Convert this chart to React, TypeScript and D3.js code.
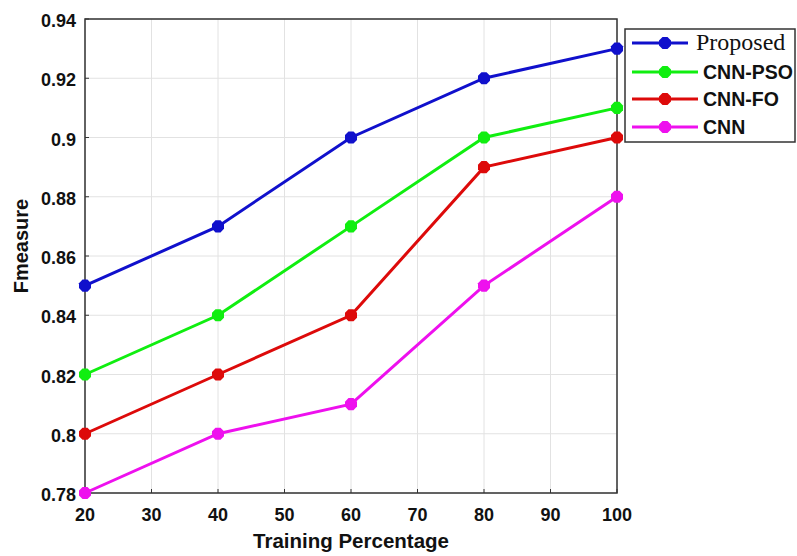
import React from "react";
import * as d3 from "d3";

const xValues = [20, 40, 60, 80, 100];
const proposed = [0.85, 0.87, 0.9, 0.92, 0.93];
const cnnPso = [0.82, 0.84, 0.87, 0.9, 0.91];
const cnnFo = [0.8, 0.82, 0.84, 0.89, 0.9];
const cnn = [0.78, 0.8, 0.81, 0.85, 0.88];
const seriesNames = ["Proposed", "CNN-PSO", "CNN-FO", "CNN"];
const seriesColors = ["#1010cc", "#10ee10", "#dd0a0a", "#ee10ee"];
const xTicks = [20, 30, 40, 50, 60, 70, 80, 90, 100];
const yTicks = [0.78, 0.8, 0.82, 0.84, 0.86, 0.88, 0.9, 0.92, 0.94];
const yTickLabels = ["0.78", "0.8", "0.82", "0.84", "0.86", "0.88", "0.9", "0.92", "0.94"];

const W = 797, H = 556;
const L = 85, R = 617, T = 19, B = 493;

function hexPath(cx: number, cy: number, r: number) {
  const pts = d3.range(8).map(i => {
    const a = (Math.PI / 4) * i + Math.PI / 8;
    return [cx + r * Math.cos(a), cy + r * Math.sin(a)];
  });
  return "M" + pts.map(p => p.join(",")).join("L") + "Z";
}

export default function App() {
  const x = d3.scaleLinear().domain([20, 100]).range([L, R]);
  const y = d3.scaleLinear().domain([0.78, 0.94]).range([B, T]);
  const data = [proposed, cnnPso, cnnFo, cnn];
  const line = d3.line<number>().x((_, i) => x(xValues[i])).y(d => y(d));
  const font = "Arial, 'Liberation Sans', sans-serif";
  const legendRows = [43, 72, 99, 127];
  return (
    <svg width={W} height={H} style={{ position: "absolute", left: 0, top: 0, background: "#fff" }}>
      <rect x={0} y={0} width={W} height={H} fill="#fff" />
      {xTicks.map(t => (
        <line key={"gx" + t} x1={x(t)} x2={x(t)} y1={T} y2={B} stroke="#e2e2e2" strokeWidth={1} />
      ))}
      {yTicks.map(t => (
        <line key={"gy" + t} x1={L} x2={R} y1={y(t)} y2={y(t)} stroke="#e2e2e2" strokeWidth={1} />
      ))}
      <rect x={L} y={T} width={R - L} height={B - T} fill="none" stroke="#333" strokeWidth={1.5} />
      {xTicks.map(t => (
        <g key={"tx" + t}>
          <line x1={x(t)} x2={x(t)} y1={B} y2={B - 4} stroke="#333" />
          <text x={x(t)} y={B + 28} textAnchor="middle" fontFamily={font} fontWeight="bold" fontSize={18} fill="#111">{t}</text>
        </g>
      ))}
      {yTicks.map((t, i) => (
        <g key={"ty" + t}>
          <line x1={L} x2={L + 4} y1={y(t)} y2={y(t)} stroke="#333" />
          <text x={L - 9} y={y(t) + 8} textAnchor="end" fontFamily={font} fontWeight="bold" fontSize={18} fill="#111">{yTickLabels[i]}</text>
        </g>
      ))}
      <text x={351} y={548} textAnchor="middle" fontFamily={font} fontWeight="bold" fontSize={20.5} fill="#111">Training Percentage</text>
      <text transform={`translate(28,${(T + B) / 2 - 10}) rotate(-90)`} textAnchor="middle" fontFamily={font} fontWeight="bold" fontSize={20} fill="#111">Fmeasure</text>
      {data.map((s, k) => (
        <g key={"s" + k}>
          <path d={line(s) || ""} fill="none" stroke={seriesColors[k]} strokeWidth={3} />
          {s.map((v, i) => (
            <path key={i} d={hexPath(x(xValues[i]), y(v), 6.5)} fill={seriesColors[k]} />
          ))}
        </g>
      ))}
      <rect x={625} y={29} width={170} height={113} fill="#fff" stroke="#333" strokeWidth={1.5} />
      {seriesNames.map((n, k) => (
        <g key={"l" + n}>
          <line x1={632} x2={k === 0 ? 688 : 698} y1={legendRows[k]} y2={legendRows[k]} stroke={seriesColors[k]} strokeWidth={3} />
          <path d={hexPath(665, legendRows[k], 6.5)} fill={seriesColors[k]} />
          <text x={k === 0 ? 696 : 703} y={legendRows[k] + 7} fontFamily={k === 0 ? "'Liberation Serif', 'Times New Roman', serif" : font} fontWeight={k === 0 ? "normal" : "bold"} fontSize={k === 0 ? 24 : 19.5} fill="#111">{n}</text>
        </g>
      ))}
    </svg>
  );
}
